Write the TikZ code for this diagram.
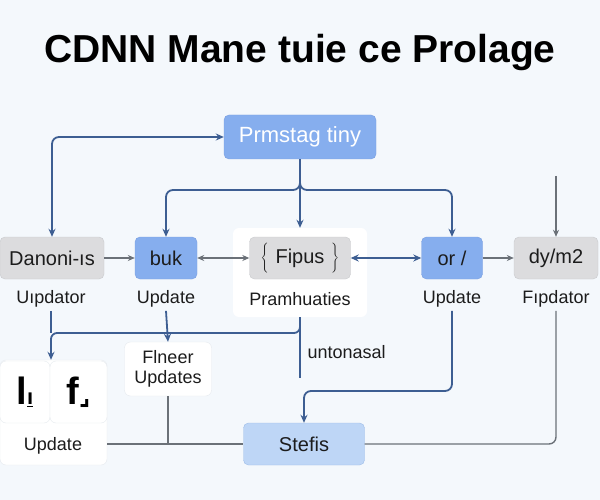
\documentclass[tikz,border=0pt]{standalone}
\usepackage{fontspec}
\setmainfont{Liberation Sans}
\newfontfamily\symfont{DejaVu Sans}
\usetikzlibrary{positioning,arrows.meta,calc}

\definecolor{bgpale}{HTML}{F4F8FC}
\definecolor{bluefill}{HTML}{86AEEE}
\definecolor{blueedge}{HTML}{7A9FE0}
\definecolor{grayfill}{HTML}{DCDCDE}
\definecolor{grayedge}{HTML}{C9CACD}
\definecolor{stefill}{HTML}{BED6F6}
\definecolor{steedge}{HTML}{9EBDE8}
\definecolor{cardedge}{HTML}{E6EAEF}
\definecolor{lineblue}{HTML}{3D5E92}
\definecolor{linegray}{HTML}{6B7178}
\definecolor{ink}{HTML}{1C1C1C}

\begin{document}
\begin{tikzpicture}[
    x=1pt, y=-1pt,
    font=\fontsize{20}{22}\selectfont,
    gbox/.style={draw=grayedge, fill=grayfill, rounded corners=5pt,
                 minimum height=42pt, inner sep=0pt, text=ink},
    bbox/.style={draw=blueedge, fill=bluefill, rounded corners=5pt,
                 minimum height=42pt, inner sep=0pt, text=ink},
    card/.style={draw=cardedge, fill=white, rounded corners=6pt, inner sep=0pt},
    lbl/.style={font=\fontsize{18}{20}\selectfont, text=ink},
    bl/.style={draw=lineblue, line width=1.8pt, >={Stealth[length=8pt,width=7pt]}},
    gl/.style={draw=linegray, line width=1.4pt, >={Stealth[length=7pt,width=6pt]}},
  ]
  \useasboundingbox (0,0) rectangle (600,500);
  \fill[bgpale] (0,0) rectangle (600,500);

  % --- title ---
  \node[font=\bfseries\fontsize{39}{44}\selectfont, anchor=base, text=black] (title)
    at (300,63) {CDNN Mane tuie ce Prolage};

  % --- top box ---
  \node[bbox, minimum width=152pt, minimum height=44pt, text=white,
        font=\fontsize{22}{24}\selectfont] (prm) at (300,137) {Prmstag tiny};

  % --- main row ---
  \node[card, draw=none, minimum width=134pt, minimum height=89pt] (fcard) at (300,272.5) {};
  \node[gbox, minimum width=104pt] (dan) at (52,258) {Danoni-ıs};
  \node[bbox, minimum width=62pt] (buk) at (166,258) {buk};
  \node[gbox, minimum width=101pt] (fip) at (300,258)
    {$\left\{\rule[-9pt]{0pt}{28pt}\right.$\ Fipus\ $\left.\rule[-9pt]{0pt}{28pt}\right\}$};
  \node[bbox, minimum width=61pt] (orx) at (452,258) {or /};
  \node[gbox, minimum width=84pt] (dym) at (556,258) {dy/m2};

  \node[lbl] (ldan) at (51,299) {Uıpdator};
  \node[lbl] (lbuk) at (166,299) {Update};
  \node[lbl] (lfip) at (300,299) {Pramhuaties};
  \node[lbl] (lorx) at (452,299) {Update};
  \node[lbl] (ldym) at (556,299) {Fıpdator};

  % --- lower part ---
  \node[card, minimum width=107pt, minimum height=105pt] (lpl) at (53.5,412.5) {};
  \node[card, minimum width=50pt, minimum height=62pt,
        font=\bfseries\fontsize{38}{38}\selectfont] (pa) at (25,392)
    {l{\fontsize{22}{22}\selectfont\underline{ı}}};
  \node[card, minimum width=57pt, minimum height=62pt,
        font=\bfseries\fontsize{38}{38}\selectfont] (pb) at (78.5,392)
    {f{\symfont\bfseries\fontsize{24}{24}\selectfont ⌟}};
  \node[lbl] (lupd) at (53,446) {Update};

  \node[card, minimum width=87pt, minimum height=54pt, align=center,
        font=\fontsize{18}{20}\selectfont, text=ink] (flr) at (168,369) {Flneer\\Updates};
  \node[bbox, draw=steedge, fill=stefill, minimum width=121pt] (stf) at (304,444) {Stefis};
  \node[lbl, anchor=west] (unt) at (304,352) {untonasal};

  % --- connectors, top ---
  \coordinate (split) at (300,190);
  \coordinate (dymin) at (556,176);
  \draw[bl,<->,rounded corners=7pt] (dan.north) |- (prm.west);
  \draw[bl,->,rounded corners=7pt] (prm.south) -- (split) -| (buk.north);
  \draw[bl,->,rounded corners=7pt] (prm.south) -- (split) -| (orx.north);
  \draw[bl,->] (prm.south) -- (fcard.north);
  \draw[gl,->] (dymin) -- (dym.north);

  \draw[gl,->] (dan) -- (buk);
  \draw[gl,<->] (buk) -- (fip);
  \draw[bl,<->] (fip) -- (orx);
  \draw[gl,->] (orx) -- (dym);

  % --- connectors, bottom ---
  \coordinate (bus) at (166,333);
  \coordinate (untend) at (300,378);
  \coordinate (turn) at (452,391);
  \draw[bl,->,rounded corners=6pt] (fcard.south) |- (bus) -| (ldan.south |- lpl.north);
  \draw[bl] (ldan.south) -- (ldan.south |- bus);
  \draw[bl,->] (lbuk.south) -- (flr.north);
  \draw[bl] (fcard.south) -- (untend);
  \draw[bl,->,rounded corners=7pt] (lorx.south) -- (turn) -| (stf.north);

  \draw[gl] (lpl.east |- stf.west) -- (stf.west);
  \draw[gl] (flr.south) -- (flr.south |- stf.west);
  \draw[gl,rounded corners=7pt] (ldym.south) |- (stf.east);
\end{tikzpicture}
\end{document}
